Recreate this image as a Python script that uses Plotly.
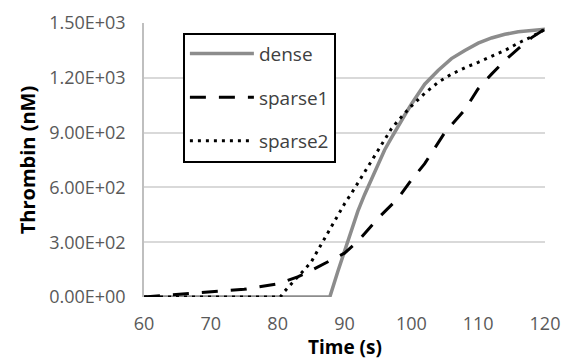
import plotly.graph_objects as go

# --- data ---
time_dense = [60, 87.8, 89, 90, 91, 92, 93, 94, 95, 96, 97, 98, 99, 100, 102, 104, 106, 108, 110, 112, 114, 116, 118, 120]
dense = [0, 0, 140, 255, 370, 470, 560, 645, 730, 805, 870, 935, 995, 1055, 1165, 1240, 1305, 1350, 1390, 1418, 1438, 1452, 1460, 1466]

time_sparse1 = [60, 65, 70, 75, 80, 83, 85, 88, 90, 92, 95, 98, 100, 102, 105, 108, 110, 112, 114, 116, 118, 120]
sparse1 = [0, 15, 28, 42, 72, 110, 145, 200, 240, 305, 430, 540, 640, 730, 900, 1025, 1140, 1220, 1295, 1360, 1420, 1468]

time_sparse2 = [60, 80.4, 81, 82, 83, 84, 85, 86, 87, 88, 89, 90, 91, 92, 93, 94, 95, 96, 97, 98,
                100, 102, 104, 106, 108, 110, 112, 114, 116, 118, 120]
sparse2 = [0, 0, 30, 70, 105, 145, 190, 255, 320, 385, 450, 510, 565, 625, 685, 745, 805, 865, 920, 965,
           1045, 1115, 1175, 1220, 1255, 1285, 1318, 1350, 1390, 1425, 1465]

x_ticks = [60, 70, 80, 90, 100, 110, 120]
y_ticks = [0, 300, 600, 900, 1200, 1500]
y_tick_labels = ["0.00E+00", "3.00E+02", "6.00E+02", "9.00E+02", "1.20E+03", "1.50E+03"]

FONT = "Open Sans"

fig = go.Figure()
fig.add_trace(go.Scatter(x=time_dense, y=dense, name="dense", mode="lines",
                         legendgroup="a",
                         line=dict(color="#8c8c8c", width=3.5)))
fig.add_trace(go.Scatter(x=time_sparse1, y=sparse1, name="sparse1", mode="lines",
                         legendgroup="b",
                         line=dict(color="black", width=3, dash="16px,13px")))
fig.add_trace(go.Scatter(x=time_sparse2, y=sparse2, name="sparse2", mode="lines",
                         legendgroup="c",
                         line=dict(color="black", width=3, dash="3px,5px")))

fig.update_layout(
    width=561, height=363,
    margin=dict(l=144, r=16, t=23, b=66),
    paper_bgcolor="white", plot_bgcolor="white",
    font=dict(family=FONT, color="#595959"),
    showlegend=True,
    legend=dict(
        x=0.097, y=0.965, xanchor="left", yanchor="top",
        bgcolor="white", bordercolor="black", borderwidth=2,
        font=dict(family=FONT, size=19, color="#404040"),
        traceorder="grouped", tracegroupgap=16,
        itemwidth=64,
    ),
    xaxis=dict(
        range=[60, 120], tickvals=x_ticks, ticktext=[str(v) for v in x_ticks],
        showgrid=False, zeroline=False, showline=False, automargin=False,
        tickfont=dict(family=FONT, size=18, color="#595959"),
        ticks="outside", ticklen=10, tickcolor="rgba(0,0,0,0)",
    ),
    yaxis=dict(
        range=[0, 1500], tickvals=y_ticks, ticktext=y_tick_labels,
        showgrid=True, gridcolor="#d9d9d9", gridwidth=1.5, automargin=False,
        zeroline=False, showline=True, linecolor="#bfbfbf", linewidth=1.5,
        tickfont=dict(family=FONT, size=18, color="#595959"),
        ticks="outside", ticklen=13, tickcolor="rgba(0,0,0,0)",
        title=dict(text="<b>Thrombin (nM)</b>", font=dict(family=FONT, size=20, color="black"), standoff=8),
    ),
    annotations=[dict(
        text="<b>Time (s)</b>", xref="paper", yref="paper", x=0.5, y=-0.183,
        xanchor="center", yanchor="middle", showarrow=False,
        font=dict(family=FONT, size=19, color="black"),
    )],
)

fig.write_html("out.html")
